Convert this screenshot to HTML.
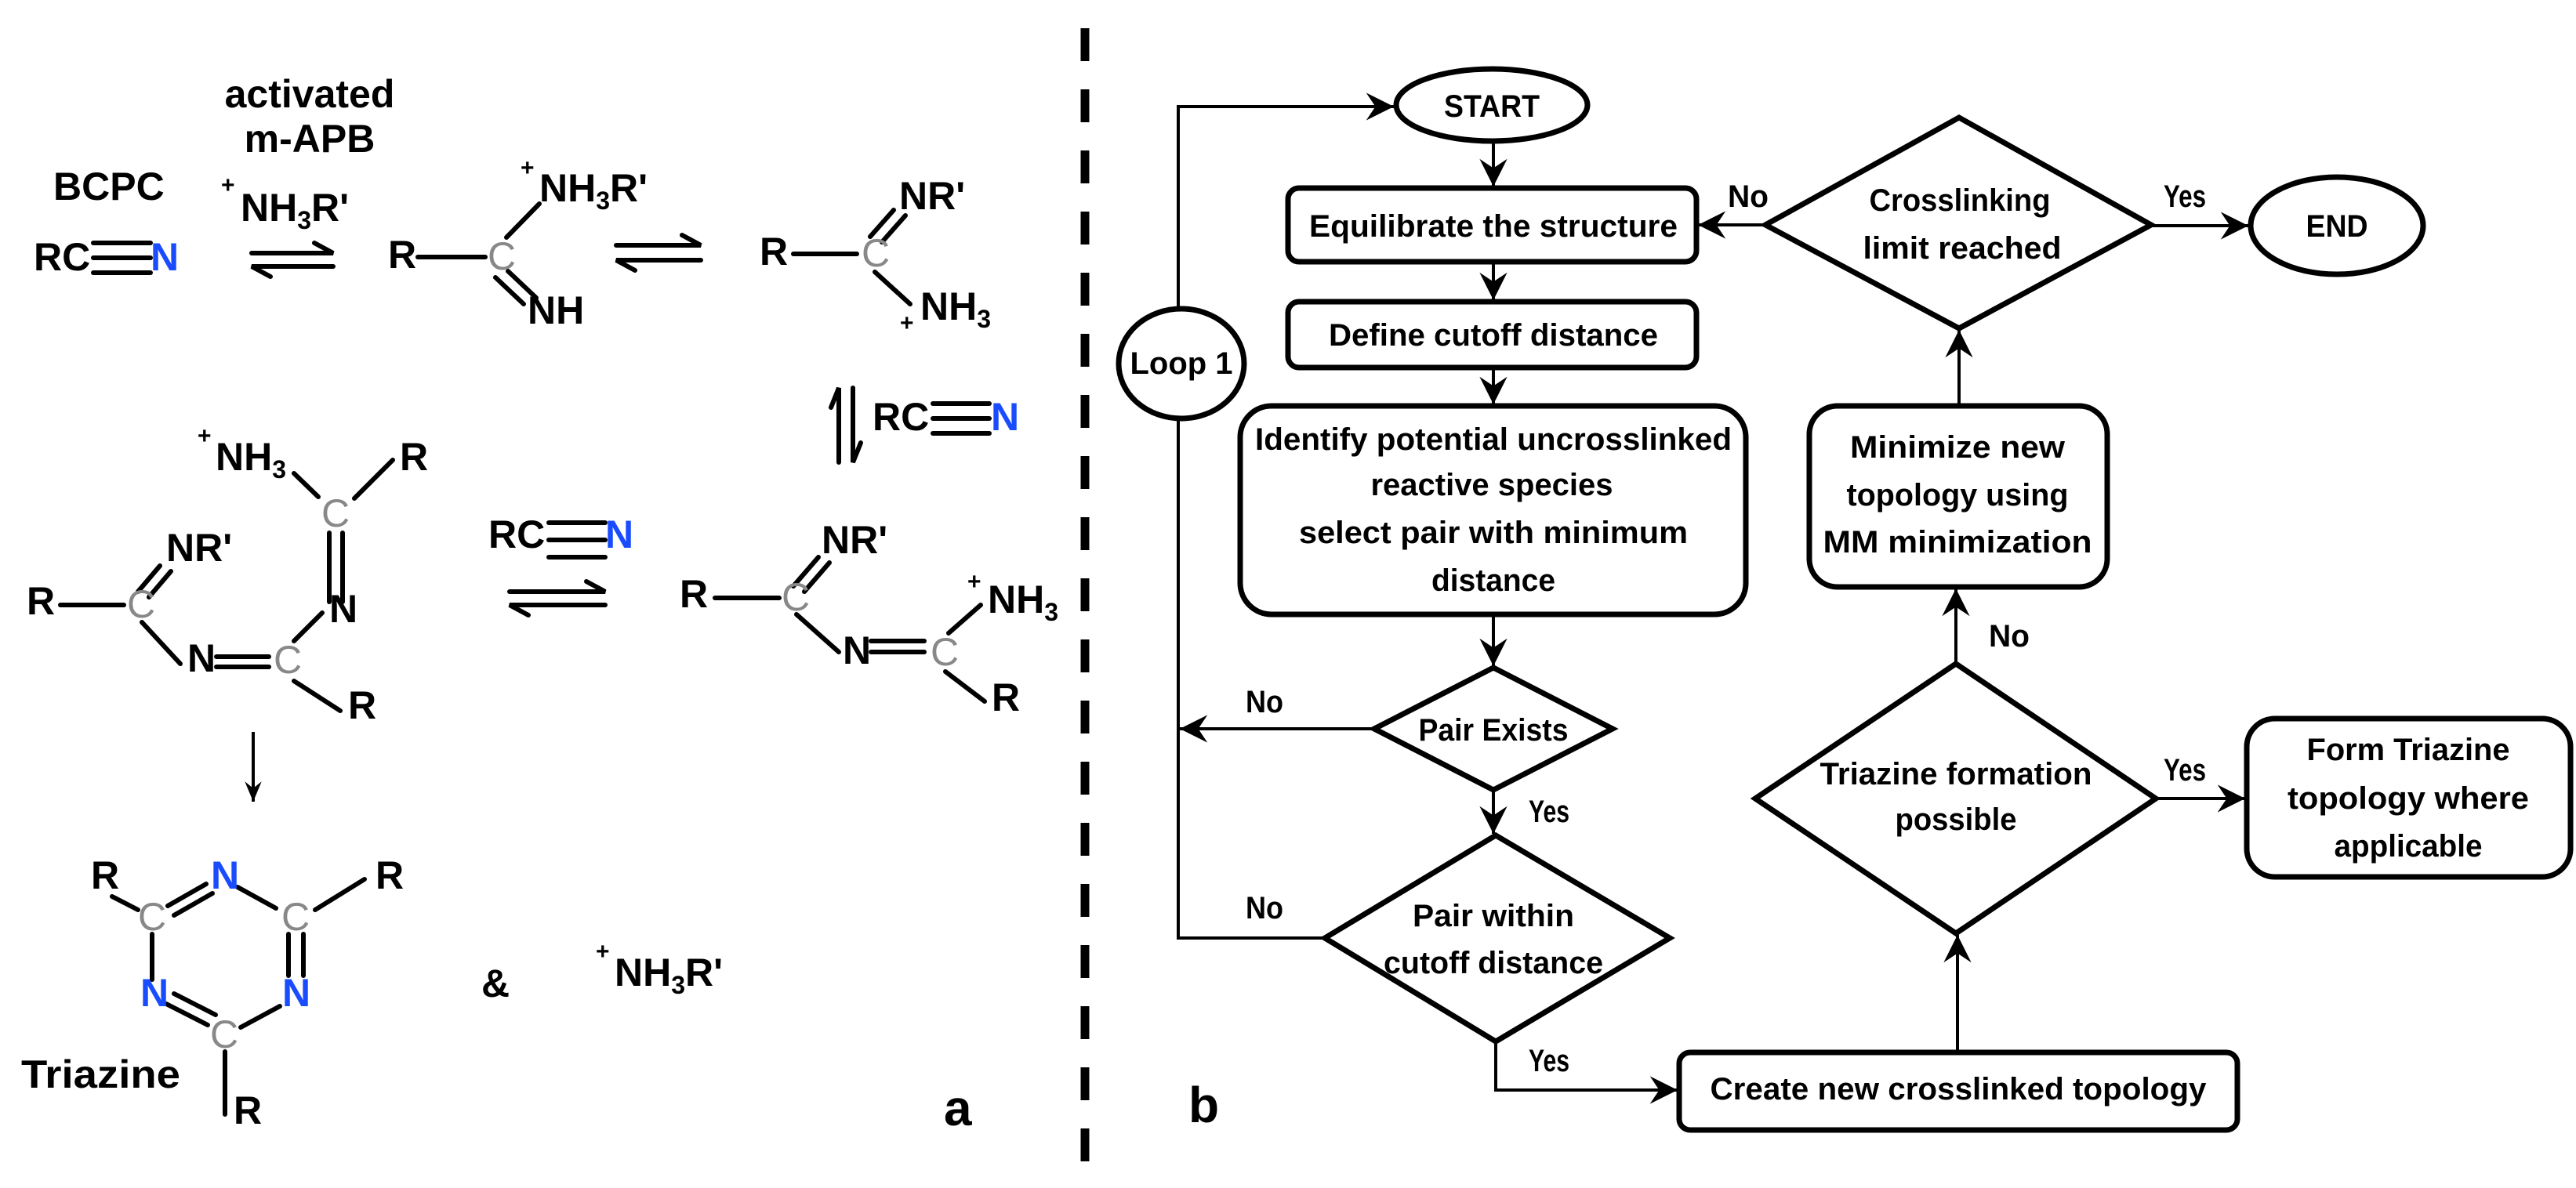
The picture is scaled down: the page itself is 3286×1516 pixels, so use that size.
<!DOCTYPE html>
<html><head><meta charset="utf-8"><style>
html,body{margin:0;padding:0;background:#fff;}
svg{display:block;}
.c{font-family:"Liberation Sans",Arial,sans-serif;font-weight:bold;font-size:50px;fill:#000;}
.g{font-family:"Liberation Sans",Arial,sans-serif;font-size:50px;fill:#888;}
.b{fill:#1a4cff;}
.f{font-family:"Liberation Sans",Arial,sans-serif;font-weight:bold;font-size:40px;fill:#000;}
.p{font-family:"Liberation Sans",Arial,sans-serif;font-weight:bold;font-size:30px;fill:#000;}
</style></head><body>
<svg width="3286" height="1516" viewBox="0 0 3286 1516" xmlns="http://www.w3.org/2000/svg">
<defs>
<marker id="ah" markerUnits="userSpaceOnUse" markerWidth="40" markerHeight="40" viewBox="-32 -16 34 32" refX="0" refY="0" orient="auto">
<path d="M0,0 L-30,-15 L-20,0 L-30,15 Z" fill="#000"/>
</marker>
<marker id="ah2" markerUnits="userSpaceOnUse" markerWidth="30" markerHeight="30" viewBox="-26 -12 28 24" refX="0" refY="0" orient="auto">
<path d="M0,0 L-24,-10 L-16,0 L-24,10 Z" fill="#000"/>
</marker>
</defs>

<line x1="1384" y1="36" x2="1384" y2="1490" stroke="#000" stroke-width="11" stroke-dasharray="42 36"/>

<g stroke="#000" stroke-width="6" stroke-linecap="round" fill="none">
<line x1="119" y1="310" x2="192" y2="310"/><line x1="119" y1="329" x2="192" y2="329"/><line x1="119" y1="348" x2="192" y2="348"/>
<path d="M321,323 H425 L401,310"/><path d="M425,340 H321 L345,353"/>
<line x1="533" y1="328" x2="619" y2="328"/>
<line x1="646" y1="303" x2="688" y2="260"/>
<line x1="632" y1="354" x2="668" y2="388"/><line x1="648" y1="346" x2="684" y2="380"/>
<path d="M786,313 H894 L870,300"/><path d="M894,332 H786 L810,345"/>
<line x1="1012" y1="324" x2="1093" y2="324"/>
<line x1="1110" y1="302" x2="1140" y2="268"/><line x1="1125" y1="309" x2="1155" y2="275"/>
<line x1="1116" y1="347" x2="1161" y2="388"/>
<path d="M1070,590 V495 L1060,520"/><path d="M1088,495 V590 L1098,565"/>
<line x1="1190" y1="515" x2="1262" y2="515"/><line x1="1190" y1="534" x2="1262" y2="534"/><line x1="1190" y1="553" x2="1262" y2="553"/>
<line x1="375" y1="604" x2="406" y2="634"/><line x1="452" y1="636" x2="501" y2="587"/>
<line x1="420" y1="680" x2="420" y2="768"/><line x1="437" y1="680" x2="437" y2="768"/>
<line x1="176" y1="755" x2="204" y2="722"/><line x1="190" y1="762" x2="218" y2="729"/>
<line x1="77" y1="772" x2="158" y2="772"/>
<line x1="181" y1="794" x2="230" y2="847"/>
<line x1="276" y1="838" x2="343" y2="838"/><line x1="276" y1="851" x2="343" y2="851"/>
<line x1="375" y1="818" x2="411" y2="782"/>
<line x1="375" y1="869" x2="434" y2="907"/>
<line x1="700" y1="667" x2="772" y2="667"/><line x1="700" y1="689" x2="772" y2="689"/><line x1="700" y1="711" x2="772" y2="711"/>
<path d="M650,755 H772 L748,742"/><path d="M772,772 H650 L674,785"/>
<line x1="912" y1="763" x2="994" y2="763"/>
<line x1="1012" y1="748" x2="1044" y2="711"/><line x1="1026" y1="755" x2="1058" y2="718"/>
<line x1="1016" y1="784" x2="1070" y2="832"/>
<line x1="1111" y1="818" x2="1179" y2="818"/><line x1="1111" y1="832" x2="1179" y2="832"/>
<line x1="1210" y1="808" x2="1251" y2="772"/>
<line x1="1206" y1="857" x2="1256" y2="895"/>
<line x1="143" y1="1144" x2="176" y2="1161"/>
<line x1="214" y1="1156" x2="263" y2="1128"/><line x1="222" y1="1168" x2="271" y2="1140"/>
<line x1="303" y1="1132" x2="352" y2="1159"/>
<line x1="402" y1="1161" x2="465" y2="1122"/>
<line x1="194" y1="1192" x2="194" y2="1250"/>
<line x1="368" y1="1192" x2="368" y2="1245"/><line x1="387" y1="1192" x2="387" y2="1245"/>
<line x1="212" y1="1281" x2="265" y2="1308"/><line x1="222" y1="1268" x2="275" y2="1295"/>
<line x1="307" y1="1311" x2="357" y2="1284"/>
<line x1="287" y1="1342" x2="287" y2="1422"/>
</g>
<line x1="323" y1="934" x2="323" y2="1023" stroke="#000" stroke-width="4" marker-end="url(#ah2)"/>

<g>
<text class="c" x="395" y="137" text-anchor="middle">activated</text>
<text class="c" x="395" y="194" text-anchor="middle">m-APB</text>
<text class="c" x="68" y="255">BCPC</text>
<text class="p" x="282" y="246">+</text>
<text class="c" x="307" y="282">NH<tspan style="font-size:32px" dy="10">3</tspan><tspan dy="-10">R'</tspan></text>
<text class="c" x="43" y="345">RC</text><text class="c b" x="192" y="345">N</text>

<text class="c" x="495" y="342">R</text>
<text class="g" x="622" y="344">C</text>
<text class="p" x="664" y="224">+</text>
<text class="c" x="688" y="257">NH<tspan style="font-size:32px" dy="10">3</tspan><tspan dy="-10">R'</tspan></text>
<text class="c" x="673" y="413">NH</text>

<text class="c" x="969" y="338">R</text>
<text class="g" x="1099" y="340">C</text>
<text class="c" x="1147" y="267">NR'</text>
<text class="p" x="1148" y="422">+</text>
<text class="c" x="1174" y="408">NH<tspan style="font-size:32px" dy="10">3</tspan></text>

<text class="c" x="1113" y="549">RC</text><text class="c b" x="1264" y="549">N</text>

<text class="p" x="252" y="566">+</text>
<text class="c" x="275" y="600">NH<tspan style="font-size:32px" dy="10">3</tspan></text>
<text class="c" x="510" y="600">R</text>
<text class="g" x="410" y="672">C</text>
<text class="c" x="212" y="716">NR'</text>
<text class="c" x="34" y="784">R</text>
<text class="g" x="162" y="788">C</text>
<text class="c" x="420" y="794">N</text>
<text class="c" x="239" y="857">N</text>
<text class="g" x="349" y="859">C</text>
<text class="c" x="444" y="917">R</text>

<text class="c" x="623" y="699">RC</text><text class="c b" x="772" y="699">N</text>

<text class="c" x="1048" y="706">NR'</text>
<text class="p" x="1234" y="752">+</text>
<text class="c" x="1260" y="782">NH<tspan style="font-size:32px" dy="10">3</tspan></text>
<text class="c" x="867" y="775">R</text>
<text class="g" x="997" y="779">C</text>
<text class="c" x="1075" y="847">N</text>
<text class="g" x="1187" y="849">C</text>
<text class="c" x="1265" y="907">R</text>

<text class="c" x="116" y="1134">R</text>
<text class="c b" x="269" y="1134">N</text>
<text class="c" x="479" y="1134">R</text>
<text class="g" x="176" y="1187">C</text>
<text class="g" x="359" y="1187">C</text>
<text class="c b" x="179" y="1284">N</text>
<text class="c b" x="360" y="1284">N</text>
<text class="g" x="268" y="1337">C</text>
<text class="c" x="298" y="1434">R</text>
<text class="c" x="27" y="1388" textLength="203" lengthAdjust="spacingAndGlyphs">Triazine</text>
<text class="c" x="614" y="1272">&amp;</text>
<text class="p" x="760" y="1224">+</text>
<text class="c" x="784" y="1258">NH<tspan style="font-size:32px" dy="10">3</tspan><tspan dy="-10">R'</tspan></text>
<text class="c" x="1204" y="1436" style="font-size:64px">a</text>
</g>

<g fill="none" stroke="#000" stroke-width="7">
<ellipse cx="1903" cy="134" rx="122" ry="46"/>
<rect x="1643" y="240" width="521" height="94" rx="14"/>
<rect x="1643" y="385" width="521" height="84" rx="14"/>
<rect x="1582" y="518" width="645" height="266" rx="40"/>
<ellipse cx="1507" cy="464" rx="80" ry="70"/>
<polygon points="2499,150 2744,287 2499,419 2252,287"/>
<ellipse cx="2981" cy="288" rx="110" ry="62"/>
<rect x="2308" y="518" width="380" height="231" rx="36"/>
<polygon points="1905,852 2057,930 1905,1008 1753,930"/>
<polygon points="1908,1066 2130,1197 1908,1329 1690,1197"/>
<rect x="2142" y="1343" width="712" height="99" rx="14"/>
<polygon points="2495,847 2750,1019 2495,1191 2239,1019"/>
<rect x="2866" y="917" width="413" height="202" rx="36"/>
</g>

<g fill="none" stroke="#000" stroke-width="4">
<polyline points="1503,393 1503,136 1778,136" marker-end="url(#ah)"/>
<polyline points="1503,536 1503,1197 1690,1197"/>
<line x1="1905" y1="182" x2="1905" y2="238" marker-end="url(#ah)"/>
<line x1="1905" y1="334" x2="1905" y2="383" marker-end="url(#ah)"/>
<line x1="1905" y1="469" x2="1905" y2="516" marker-end="url(#ah)"/>
<line x1="2252" y1="287" x2="2166" y2="287" marker-end="url(#ah)"/>
<line x1="2744" y1="288" x2="2868" y2="288" marker-end="url(#ah)"/>
<line x1="2499" y1="518" x2="2499" y2="421" marker-end="url(#ah)"/>
<line x1="1905" y1="784" x2="1905" y2="850" marker-end="url(#ah)"/>
<line x1="1753" y1="930" x2="1505" y2="930" marker-end="url(#ah)"/>
<line x1="1905" y1="1008" x2="1905" y2="1064" marker-end="url(#ah)"/>
<polyline points="1908,1329 1908,1391 2140,1391" marker-end="url(#ah)"/>
<line x1="2497" y1="1343" x2="2497" y2="1193" marker-end="url(#ah)"/>
<line x1="2495" y1="847" x2="2495" y2="751" marker-end="url(#ah)"/>
<line x1="2750" y1="1019" x2="2864" y2="1019" marker-end="url(#ah)"/>
</g>

<g text-anchor="middle">
<text class="f" x="1903" y="149" textLength="122" lengthAdjust="spacingAndGlyphs">START</text>
<text class="f" x="1905" y="302" textLength="470" lengthAdjust="spacingAndGlyphs">Equilibrate the structure</text>
<text class="f" x="1905" y="441" textLength="420" lengthAdjust="spacingAndGlyphs">Define cutoff distance</text>
<text class="f" x="1905" y="574" textLength="608" lengthAdjust="spacingAndGlyphs">Identify potential uncrosslinked</text>
<text class="f" x="1903" y="632" textLength="309" lengthAdjust="spacingAndGlyphs">reactive species</text>
<text class="f" x="1905" y="693" textLength="496" lengthAdjust="spacingAndGlyphs">select pair with minimum</text>
<text class="f" x="1905" y="754" textLength="158" lengthAdjust="spacingAndGlyphs">distance</text>
<text class="f" x="1507" y="477" textLength="131" lengthAdjust="spacingAndGlyphs">Loop 1</text>
<text class="f" x="2500" y="269" textLength="231" lengthAdjust="spacingAndGlyphs">Crosslinking</text>
<text class="f" x="2503" y="330" textLength="253" lengthAdjust="spacingAndGlyphs">limit reached</text>
<text class="f" x="2981" y="302" textLength="79" lengthAdjust="spacingAndGlyphs">END</text>
<text class="f" x="2230" y="264" textLength="52" lengthAdjust="spacingAndGlyphs">No</text>
<text class="f" x="2787" y="264" textLength="54" lengthAdjust="spacingAndGlyphs">Yes</text>
<text class="f" x="2497" y="584" textLength="274" lengthAdjust="spacingAndGlyphs">Minimize new</text>
<text class="f" x="2497" y="645" textLength="283" lengthAdjust="spacingAndGlyphs">topology using</text>
<text class="f" x="2497" y="705" textLength="343" lengthAdjust="spacingAndGlyphs">MM minimization</text>
<text class="f" x="1905" y="945" textLength="191" lengthAdjust="spacingAndGlyphs">Pair Exists</text>
<text class="f" x="1613" y="909" textLength="48" lengthAdjust="spacingAndGlyphs">No</text>
<text class="f" x="1976" y="1049" textLength="52" lengthAdjust="spacingAndGlyphs">Yes</text>
<text class="f" x="1905" y="1182" textLength="206" lengthAdjust="spacingAndGlyphs">Pair within</text>
<text class="f" x="1905" y="1242" textLength="280" lengthAdjust="spacingAndGlyphs">cutoff distance</text>
<text class="f" x="1613" y="1172" textLength="48" lengthAdjust="spacingAndGlyphs">No</text>
<text class="f" x="1976" y="1367" textLength="52" lengthAdjust="spacingAndGlyphs">Yes</text>
<text class="f" x="2498" y="1403" textLength="633" lengthAdjust="spacingAndGlyphs">Create new crosslinked topology</text>
<text class="f" x="2495" y="1001" textLength="347" lengthAdjust="spacingAndGlyphs">Triazine formation</text>
<text class="f" x="2495" y="1059" textLength="155" lengthAdjust="spacingAndGlyphs">possible</text>
<text class="f" x="2563" y="825" textLength="52" lengthAdjust="spacingAndGlyphs">No</text>
<text class="f" x="2787" y="996" textLength="54" lengthAdjust="spacingAndGlyphs">Yes</text>
<text class="f" x="3072" y="970" textLength="259" lengthAdjust="spacingAndGlyphs">Form Triazine</text>
<text class="f" x="3072" y="1032" textLength="308" lengthAdjust="spacingAndGlyphs">topology where</text>
<text class="f" x="3072" y="1093" textLength="189" lengthAdjust="spacingAndGlyphs">applicable</text>
</g>
<text class="f" x="1516" y="1432" style="font-size:64px">b</text>
</svg>
</body></html>
